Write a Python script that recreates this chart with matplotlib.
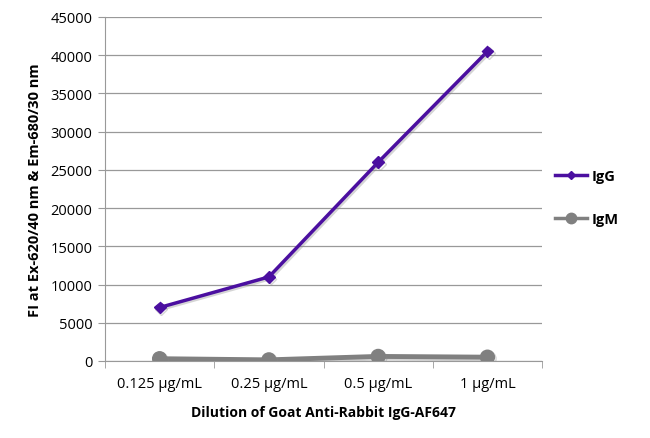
import numpy as np
import matplotlib
matplotlib.use("Agg")
from matplotlib import pyplot as plt
import matplotlib.patheffects as pe

plt.rcParams['font.family'] = ['Open Sans', 'DejaVu Sans']

# data
categories = ['0.125 µg/mL', '0.25 µg/mL', '0.5 µg/mL', '1 µg/mL']
igg = [7000, 11000, 26000, 40500]
igm = [300, 150, 600, 500]
y_ticks = [0, 5000, 10000, 15000, 20000, 25000, 30000, 35000, 40000, 45000]

fig = plt.figure(figsize=(6.5, 4.39), dpi=100)
ax = fig.add_axes([0.1615, 0.1754, 0.6725, 0.7836])

x = np.arange(len(categories))
shadow = [pe.SimpleLineShadow(offset=(1.2, -1.2), shadow_color='#888888', alpha=0.35), pe.Normal()]

ax.plot(x, igg, color='#4B0FA0', lw=2.5, marker='D', ms=6, label='IgG',
        path_effects=shadow, zorder=4)
ax.plot(x, igm, color='#808080', lw=3.5, marker='o', ms=10, label='IgM',
        path_effects=shadow, zorder=3)

ax.set_xlim(-0.5, len(categories) - 0.5)
ax.set_ylim(0, 45000)
ax.set_yticks(y_ticks)
ax.set_yticklabels([str(v) for v in y_ticks], fontsize=10.5)
ax.set_xticks(x)
ax.set_xticklabels(categories, fontsize=10.5)
ax.tick_params(axis='x', length=0, pad=11)
ax.tick_params(axis='y', length=5, color='#999999', pad=4, direction='out')

# category boundary ticks on the x axis
ax.set_xticks(np.arange(-0.5, len(categories)), minor=True)
ax.tick_params(axis='x', which='minor', length=5, color='#999999', direction='out')

ax.grid(axis='y', color='#999999', lw=0.9)
ax.set_axisbelow(True)
for s in ['top', 'right']:
    ax.spines[s].set_visible(False)
ax.spines['left'].set_color('#999999')
ax.spines['bottom'].set_color('#999999')

ax.set_xlabel('Dilution of Goat Anti-Rabbit IgG-AF647', fontsize=10, fontweight='bold', labelpad=10)
ax.set_ylabel('FI at Ex-620/40 nm & Em-680/30 nm', fontsize=10.5, fontweight='bold', labelpad=6)

leg = ax.legend(loc='center left', bbox_to_anchor=(1.0, 0.475), frameon=False,
                prop={'weight': 'bold', 'size': 10.5}, handlelength=2.2,
                labelspacing=2.0, handletextpad=0.3, markerscale=0.75)
# thinner legend lines, as in the reference
for h in leg.get_lines():
    h.set_linewidth(2.5)
    h.set_path_effects([])

fig.savefig('out.png', dpi=100)
